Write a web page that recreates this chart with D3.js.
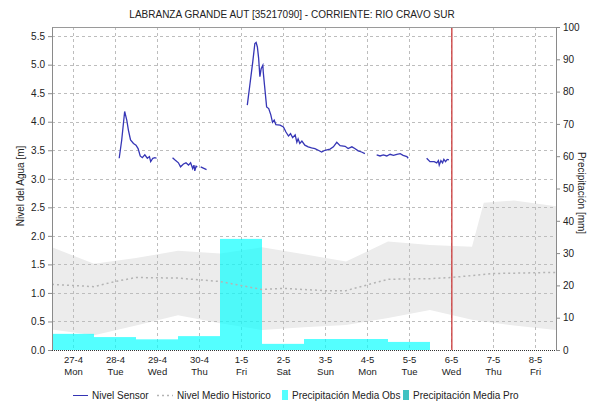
<!DOCTYPE html>
<html><head><meta charset="utf-8">
<script src="https://cdn.jsdelivr.net/npm/d3@7"></script>
<style>
body{margin:0;background:#fff;}
svg text{font-family:"Liberation Sans",Arial,sans-serif;fill:#222;}
</style></head>
<body><svg id="chart" width="589" height="402"></svg>
<script>
// Day categories on the time axis (integer positions 0..11)
const dayLabels = ["27-4","28-4","29-4","30-4","1-5","2-5","3-5","4-5","5-5","6-5","7-5","8-5"];
const weekdayLabels = ["Mon","Tue","Wed","Thu","Fri","Sat","Sun","Mon","Tue","Wed","Thu","Fri"];

// Daily observed mean precipitation [mm]
const precipObs = [5.0, 4.0, 3.3, 4.3, 34.4, 1.9, 3.4, 3.4, 2.5, null, null, null];

const levelTicks = [0,0.5,1,1.5,2,2.5,3,3.5,4,4.5,5,5.5];
const precipTicks = [0,10,20,30,40,50,60,70,80,90,100];

// Historical envelope of water level [m]
const histDay = [-0.5,0.5,1.5,2.5,3.5,4.5,5.5,6.5,7.5,8.5,9.5,9.78,10.5,11.5];
const histMax = [1.80,1.51,1.61,1.74,1.69,1.80,1.68,1.55,1.90,1.84,1.81,2.58,2.62,2.52];
const histMin = [0.36,0.26,0.43,0.61,0.47,0.35,0.40,0.44,0.56,0.70,0.53,0.50,0.43,0.35];

// Historical mean water level [m]
const medianDay = [-0.5,0.5,1.0,1.5,2.5,3.5,4.5,5.0,6.0,6.5,7.5,8.5,9.0,10.0,11.5];
const medianLevel = [1.15,1.11,1.20,1.27,1.26,1.20,1.06,1.08,1.04,1.04,1.24,1.25,1.27,1.34,1.36];

// Sensor water level [m]; null marks a gap in the record
const sensorDay = [
  1.10,1.16,1.23,1.28,1.32,1.37,1.44,1.50,1.55,1.60,1.65,1.71,1.77,1.82,1.85,1.90,1.95,1.99, null,
  2.37,2.43,2.51,2.56,2.63,2.69,2.75,2.80,2.85,2.88,2.90,2.93,2.96, null,
  3.04,3.18, null,
  4.15,4.21,4.28,4.33,4.36,4.39,4.42,4.45,4.48,4.52,4.53,4.56,4.61,4.66,4.71,4.75,4.79,4.83,4.93,5.01,
  5.07,5.13,5.18,5.23,5.29,5.33,5.36,5.40,5.45,5.52,5.60,5.68,5.76,5.84,5.92,6.00,6.12,6.20,6.28,6.36,
  6.48,6.55,6.64,6.71,6.79,6.87,6.95, null,
  7.23,7.31,7.39,7.47,7.55,7.63,7.71,7.79,7.86,7.95,7.98, null,
  8.42,8.50,8.60,8.66,8.70,8.72,8.76,8.80,8.83,8.87,8.91,8.95
];
const sensorLevel = [
  3.36,3.68,4.18,4.03,3.85,3.68,3.62,3.59,3.53,3.40,3.37,3.42,3.36,3.39,3.30,3.36,3.37,3.36, null,
  3.37,3.33,3.28,3.21,3.26,3.28,3.24,3.28,3.18,3.24,3.14,3.22,3.21, null,
  3.21,3.16, null,
  4.29,4.64,5.05,5.37,5.39,5.31,5.11,4.79,4.93,4.99,4.87,4.64,4.26,4.23,4.12,3.99,4.03,3.95,3.94,3.91,
  3.82,3.75,3.79,3.72,3.77,3.64,3.70,3.62,3.66,3.59,3.56,3.54,3.53,3.50,3.47,3.50,3.52,3.56,3.64,3.58,
  3.57,3.53,3.56,3.53,3.49,3.47,3.44, null,
  3.42,3.40,3.42,3.40,3.43,3.41,3.43,3.44,3.41,3.39,3.36, null,
  3.36,3.30,3.30,3.28,3.32,3.24,3.32,3.28,3.34,3.30,3.34,3.33
];

// Current time marker
const nowDay = 9.02;

const title = "LABRANZA GRANDE AUT [35217090] - CORRIENTE: RIO CRAVO SUR";

const plot = {left:52, right:556, top:27, bottom:350};
const svg = d3.select("#chart");

const x = d3.scaleLinear().domain([-0.5, 11.5]).range([plot.left, plot.right]);
const yL = d3.scaleLinear().domain([0, 5.66]).range([plot.bottom, plot.top]);
const yR = d3.scaleLinear().domain([0, 100]).range([plot.bottom, plot.top]);
const dayW = x(1) - x(0);

// historical envelope
const band = histDay.map((d,i)=>({d, lo:histMin[i], hi:histMax[i]}));
svg.append("path").datum(band)
  .attr("fill","#ececec")
  .attr("d", d3.area().x(p=>x(p.d)).y0(p=>yL(p.lo)).y1(p=>yL(p.hi)));

// grid
const grid = svg.append("g").attr("stroke","#bdbdbd").attr("stroke-dasharray","3,3").attr("stroke-width",1);
grid.selectAll("line.h").data(levelTicks.filter(v=>v>0)).join("line")
  .attr("x1",plot.left).attr("x2",plot.right)
  .attr("y1",v=>Math.round(yL(v))+0.5).attr("y2",v=>Math.round(yL(v))+0.5);
grid.selectAll("line.v").data(d3.range(dayLabels.length)).join("line")
  .attr("x1",i=>Math.round(x(i))+0.5).attr("x2",i=>Math.round(x(i))+0.5)
  .attr("y1",plot.top).attr("y2",plot.bottom);

// precipitation bars
svg.append("g").selectAll("rect")
  .data(precipObs.map((v,i)=>({i,v})).filter(p=>p.v!=null))
  .join("rect")
  .attr("x",p=>x(p.i-0.5)).attr("width",dayW)
  .attr("y",p=>yR(p.v)).attr("height",p=>yR(0)-yR(p.v))
  .attr("fill","#00ffff").attr("fill-opacity",0.67);

// historical mean
svg.append("path").datum(medianDay.map((d,i)=>({d,v:medianLevel[i]})))
  .attr("fill","none").attr("stroke","#b4b4b4").attr("stroke-width",1.5)
  .attr("stroke-dasharray","2,3")
  .attr("d", d3.line().x(p=>x(p.d)).y(p=>yL(p.v)));

// sensor level
svg.append("path").datum(sensorDay.map((d,i)=>({d,v:sensorLevel[i]})))
  .attr("fill","none").attr("stroke","#3636b6").attr("stroke-width",1.3)
  .attr("d", d3.line().defined(p=>p.d!=null && p.v!=null).x(p=>x(p.d)).y(p=>yL(p.v)));

// current time
svg.append("line")
  .attr("x1",x(nowDay)).attr("x2",x(nowDay))
  .attr("y1",plot.top).attr("y2",plot.bottom)
  .attr("stroke","#cc3b3b").attr("stroke-width",1.3);

// frame top
svg.append("line").attr("x1",plot.left).attr("x2",plot.right)
  .attr("y1",plot.top+0.5).attr("y2",plot.top+0.5).attr("stroke","#9a9a9a");

// left axis
const axL = svg.append("g").attr("transform",`translate(${plot.left},0)`)
  .call(d3.axisLeft(yL).tickValues(levelTicks).tickFormat(d3.format(".1f")).tickSize(4).tickSizeOuter(0));
axL.select(".domain").attr("stroke","#8a8a8a");
axL.selectAll(".tick line").attr("stroke","#8a8a8a");
axL.selectAll("text").attr("font-size",10).attr("fill","#333");

// right axis
const axR = svg.append("g").attr("transform",`translate(${plot.right},0)`)
  .call(d3.axisRight(yR).tickValues(precipTicks).tickSize(4).tickSizeOuter(0));
axR.select(".domain").attr("stroke","#8a8a8a");
axR.selectAll(".tick line").attr("stroke","#8a8a8a");
axR.selectAll("text").attr("font-size",10).attr("fill","#333");

// bottom axis
svg.append("line").attr("x1",plot.left).attr("x2",plot.right)
  .attr("y1",plot.bottom+0.5).attr("y2",plot.bottom+0.5)
  .attr("stroke","#333").attr("stroke-dasharray","1,1");
const axB = svg.append("g").attr("transform",`translate(0,${plot.bottom})`)
  .call(d3.axisBottom(x).tickValues(d3.range(dayLabels.length)).tickSize(0).tickFormat(""));
axB.select(".domain").remove();
axB.selectAll(".tick").each(function(i){
  const t = d3.select(this).append("text").attr("text-anchor","middle").attr("font-size",9.5).attr("fill","#333");
  t.append("tspan").attr("x",0).attr("y",13).text(dayLabels[i]);
  t.append("tspan").attr("x",0).attr("y",25).text(weekdayLabels[i]);
});

// titles
svg.append("text").attr("x",292).attr("y",18).attr("text-anchor","middle")
  .attr("font-size",10).text(title);
svg.append("text").attr("transform","translate(24,186) rotate(-90)")
  .attr("text-anchor","middle").attr("font-size",10).text("Nivel del Agua [m]");
svg.append("text").attr("transform","translate(578,193) rotate(90)")
  .attr("text-anchor","middle").attr("font-size",10).text("Precipitación [mm]");

// legend
const lg = svg.append("g").attr("font-size",10);
lg.append("line").attr("x1",73).attr("x2",88).attr("y1",395.5).attr("y2",395.5).attr("stroke","#3434b4");
lg.append("text").attr("x",92).attr("y",399).attr("font-size",10).text("Nivel Sensor");
lg.append("line").attr("x1",157).attr("x2",173).attr("y1",395.5).attr("y2",395.5)
  .attr("stroke","#b4b4b4").attr("stroke-width",1.5).attr("stroke-dasharray","2,3");
lg.append("text").attr("x",177).attr("y",399).attr("font-size",10).text("Nivel Medio Historico");
lg.append("rect").attr("x",282).attr("y",390).attr("width",6).attr("height",10).attr("fill","#55ffff");
lg.append("text").attr("x",292).attr("y",399).attr("font-size",10).text("Precipitación Media Obs");
lg.append("rect").attr("x",403).attr("y",390).attr("width",6).attr("height",10).attr("fill","#3fc2c2");
lg.append("text").attr("x",413).attr("y",399).attr("font-size",10).text("Precipitación Media Pro");
</script>
</body></html>
